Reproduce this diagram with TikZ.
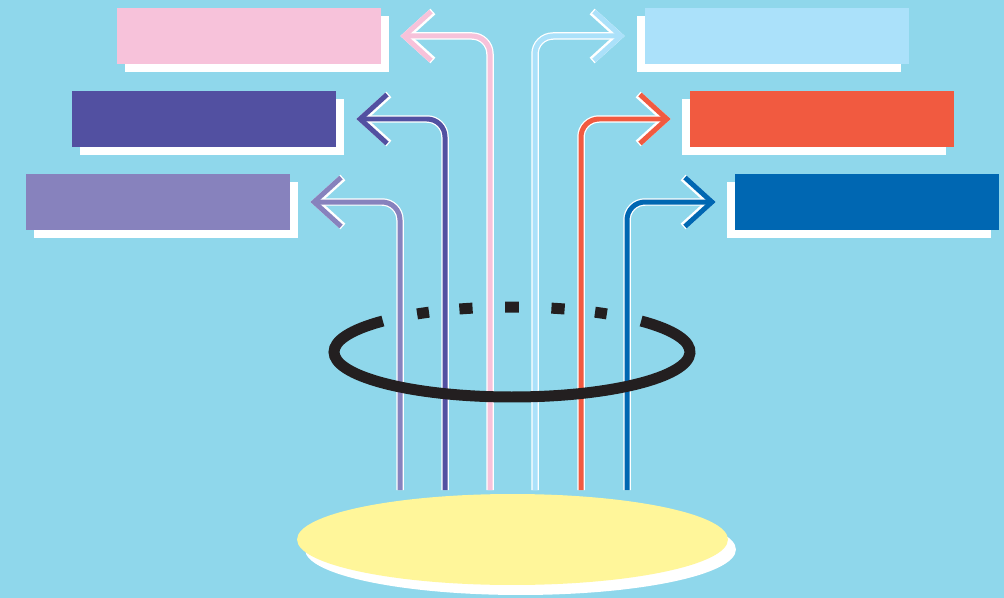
\documentclass[tikz,border=0pt]{standalone}
\usetikzlibrary{arrows.meta,calc,positioning,shadows,shapes.geometric}
\definecolor{skyc}{HTML}{8FD7EB}
\definecolor{pinkc}{HTML}{F7C2DA}
\definecolor{indigoc}{HTML}{5250A1}
\definecolor{lavc}{HTML}{8782BD}
\definecolor{paleblue}{HTML}{ABE1FA}
\definecolor{redc}{HTML}{F15A40}
\definecolor{bluec}{HTML}{0067B2}
\definecolor{yelc}{HTML}{FFF69A}
\definecolor{ringc}{HTML}{231F20}

\begin{document}
\begin{tikzpicture}[x=0.02cm,y=-0.02cm,
  lbox/.style={rectangle,inner sep=0pt,minimum width=5.28cm,minimum height=1.12cm,
    general shadow={fill=white,shadow xshift=0.16cm,shadow yshift=-0.16cm}},
  rbox/.style={rectangle,inner sep=0pt,minimum width=5.28cm,minimum height=1.12cm,
    general shadow={fill=white,shadow xshift=-0.16cm,shadow yshift=-0.16cm}},
  halo/.style={white,line width=0.15cm,rounded corners=0.36cm,
    -{Straight Barb[length=0.54cm,width=0.98cm,sharp]}},
  feed/.style={line width=0.1cm,rounded corners=0.36cm,
    -{Straight Barb[length=0.54cm,width=0.98cm,sharp]}},
  ringline/.style={ringc,line width=0.22cm}]
  \fill[skyc] (0,0) rectangle (1004,598);
  \useasboundingbox (0,0) rectangle (1004,598);

  % back of the ring
  \coordinate (rc) at (512,352);
  \foreach \a in {240,255,...,300}
    \draw[ringline] (rc) ++(\a-2.2:178 and 45)
      arc[start angle=\a-2.2,end angle=\a+2.2,x radius=178,y radius=45];

  % boxes
  \node[lbox,fill=pinkc] (pinkbox) at (249,36) {};
  \node[lbox,fill=indigoc] (indigobox) at (204,119) {};
  \node[lbox,fill=lavc] (lavbox) at (158,202) {};
  \node[rbox,fill=paleblue] (palebox) at (777,36) {};
  \node[rbox,fill=redc] (redbox) at (822,119) {};
  \node[rbox,fill=bluec] (bluebox) at (867,202) {};

  % feet of the arrows
  \coordinate (s1) at (400,490);
  \coordinate (s2) at (445,490);
  \coordinate (s3) at (490,490);
  \coordinate (s4) at (535,490);
  \coordinate (s5) at (581,490);
  \coordinate (s6) at (627,490);

  \foreach \s/\b/\d/\c in {s1/lavbox/20/lavc,s2/indigobox/20/indigoc,s3/pinkbox/19/pinkc}{
    \draw[halo] (\s) |- ($(\b.east)+(\d,0)$);
    \draw[feed,\c] (\s) |- ($(\b.east)+(\d,0)$);
  }
  \foreach \s/\b/\d/\c in {s4/palebox/20/paleblue,s5/redbox/19/redc,s6/bluebox/19/bluec}{
    \draw[halo] (\s) |- ($(\b.west)-(\d,0)$);
    \draw[feed,\c] (\s) |- ($(\b.west)-(\d,0)$);
  }

  % front of the ring
  \draw[ringline] (rc) ++(-43.5:178 and 45)
    arc[start angle=-43.5,end angle=223.5,x radius=178,y radius=45];

  % base
  \node[ellipse,fill=yelc,inner sep=0pt,minimum width=8.62cm,minimum height=1.82cm,
    general shadow={fill=white,shadow xshift=0.16cm,shadow yshift=-0.2cm}] (base) at (512.5,539.5) {};
\end{tikzpicture}
\end{document}
